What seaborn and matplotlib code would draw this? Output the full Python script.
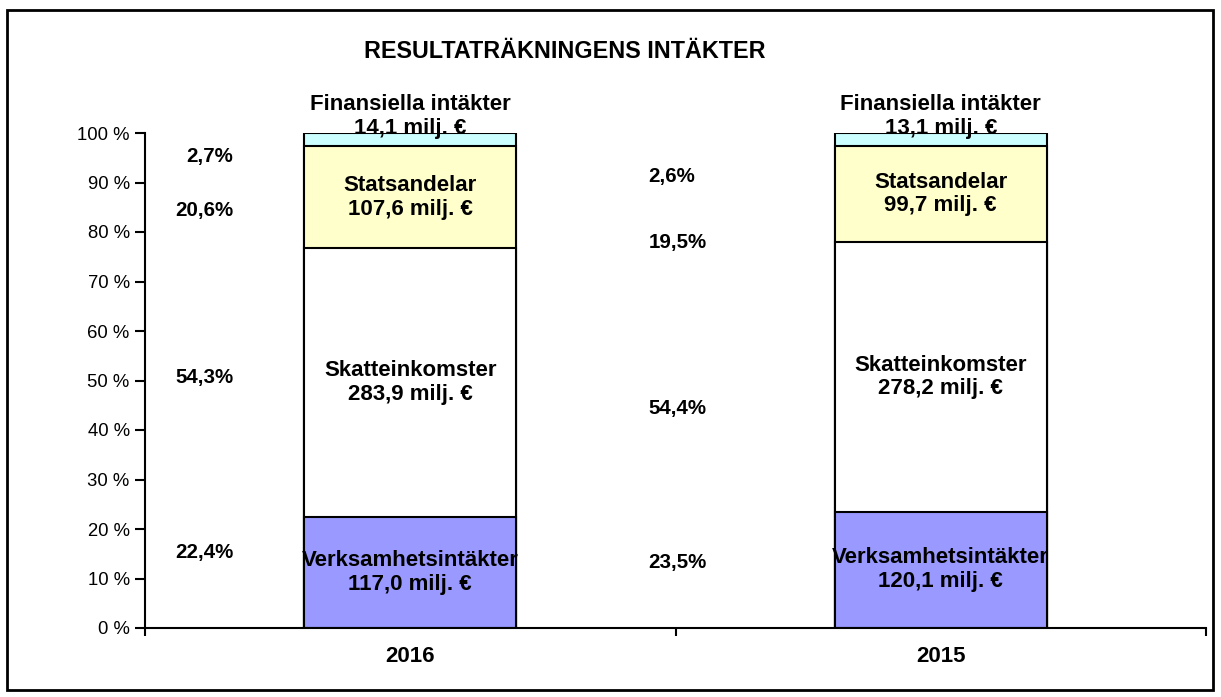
import matplotlib
matplotlib.use("Agg")
import matplotlib.pyplot as plt
import seaborn as sns
import pandas as pd
import numpy as np
from matplotlib.patches import Rectangle

sns.set_theme(style="white")
plt.rcParams['font.family'] = ['Liberation Sans', 'DejaVu Sans']
plt.rcParams['text.color'] = 'black'
plt.rcParams['xtick.color'] = 'black'
plt.rcParams['ytick.color'] = 'black'
plt.rcParams['axes.labelcolor'] = 'black'

years = ["2016", "2015"]
segments = ["Verksamhetsintäkter", "Skatteinkomster", "Statsandelar", "Finansiella intäkter"]
pct_2016 = [22.4, 54.3, 20.6, 2.7]
pct_2015 = [23.5, 54.4, 19.5, 2.6]
milj_2016 = ["117,0", "283,9", "107,6", "14,1"]
milj_2015 = ["120,1", "278,2", "99,7", "13,1"]
pct_labels_2016 = ["22,4%", "54,3%", "20,6%", "2,7%"]
pct_labels_2015 = ["23,5%", "54,4%", "19,5%", "2,6%"]
yticklabels = ["0 %", "10 %", "20 %", "30 %", "40 %", "50 %", "60 %", "70 %", "80 %", "90 %", "100 %"]
title = "RESULTATRÄKNINGENS INTÄKTER"

colors = ["#9999FF", "#FFFFFF", "#FFFFCC", "#CCFFFF"]

# percent-label layout (x, ha, y positions)
pct_label_x = {"2016": (-0.334, "right"), "2015": (0.449, "left")}
pct_label_y = {"2016": [15.2, 50.7, 84.4, 95.2], "2015": [13.3, 44.4, 77.8, 91.3]}

rows = []
for y, vals in zip(years, [pct_2016, pct_2015]):
    cum = np.cumsum(vals)
    for s, v, c in zip(segments, vals, cum):
        rows.append({"year": y, "segment": s, "value": v, "top": c})
df = pd.DataFrame(rows)

fig = plt.figure(figsize=(12.21, 6.97), dpi=100)
ax = fig.add_axes([145/1221, 1-628/697, (1206-145)/1221, (628-133)/697])

# draw cumulative layers from top down
for seg, col in reversed(list(zip(segments, colors))):
    sub = df[df.segment == seg]
    sns.barplot(data=sub, x="year", y="top", order=years, color=col, width=0.4,
                edgecolor="black", linewidth=1.5, saturation=1, ax=ax, errorbar=None)

ax.set_xlim(-0.5, 1.5)
ax.set_ylim(0, 100)
ax.set_yticks(np.arange(0, 101, 10))
ax.set_yticklabels(yticklabels, fontsize=13.3)
ax.set_xticks([0, 1])
ax.set_xticklabels(years, fontsize=16, fontweight="bold")
ax.set_xticks([-0.5, 0.5, 1.5], minor=True)
ax.tick_params(axis="x", which="major", length=0, pad=13)
ax.tick_params(axis="x", which="minor", length=6, width=1.5, color="black", direction="out", bottom=True)
ax.tick_params(axis="y", length=7, width=1.5, color="black", direction="out", left=True, pad=4)
ax.set_xlabel("")
ax.set_ylabel("")
for sp in ["top", "right"]:
    ax.spines[sp].set_visible(False)
for sp in ["left", "bottom"]:
    ax.spines[sp].set_color("black")
    ax.spines[sp].set_linewidth(1.5)
ax.patch.set_alpha(0)

# segment labels
for i, (y, vals, milj) in enumerate(zip(years, [pct_2016, pct_2015], [milj_2016, milj_2015])):
    cum = np.cumsum(vals)
    starts = cum - np.array(vals)
    for j, seg in enumerate(segments):
        txt = f"{seg}\n{milj[j]} milj. €"
        if j == 3:
            ypos = 103.4
        else:
            ypos = starts[j] + vals[j] / 2
        ax.text(i, ypos, txt, ha="center", va="center", fontsize=16, fontweight="bold",
                linespacing=1.17, clip_on=False, zorder=10, color="black")
    xp, ha = pct_label_x[y]
    labs = pct_labels_2016 if y == "2016" else pct_labels_2015
    for lab, yp in zip(labs, pct_label_y[y]):
        ax.text(xp, yp, lab, ha=ha, va="center", fontsize=14.8, fontweight="bold",
                clip_on=False, color="black")

fig.text(565/1221, 1-51/697, title, ha="center", va="center", fontsize=16.8, fontweight="bold",
         color="black")

# figure border
fig.patches.append(Rectangle((7/1221, 7/697), (1213-7)/1221, (689-9)/697, transform=fig.transFigure,
                             fill=False, edgecolor="black", linewidth=2))

fig.savefig("out.png", dpi=100)
